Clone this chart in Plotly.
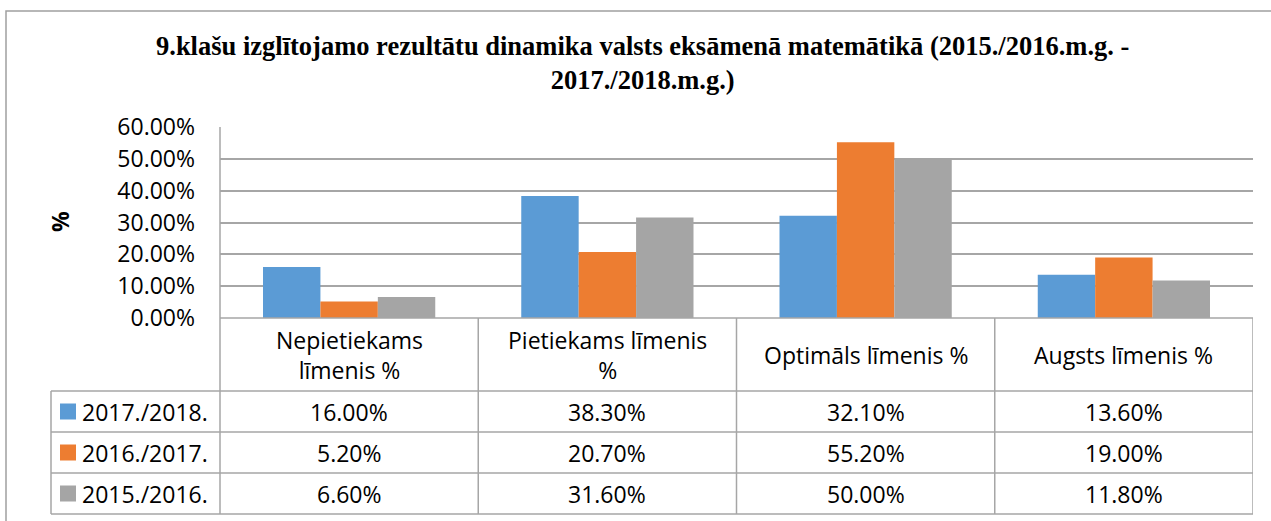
import plotly.graph_objects as go

categories = ["Nepietiekams<br>līmenis %", "Pietiekams līmenis<br>%", "Optimāls līmenis %", "Augsts līmenis %"]
series_names = ["2017./2018.", "2016./2017.", "2015./2016."]
values_2017_2018 = [0.160, 0.383, 0.321, 0.136]
values_2016_2017 = [0.052, 0.207, 0.552, 0.190]
values_2015_2016 = [0.066, 0.316, 0.500, 0.118]
series_values = [values_2017_2018, values_2016_2017, values_2015_2016]
colors = ["#5B9BD5", "#ED7D31", "#A5A5A5"]
y_ticks = [0, 0.1, 0.2, 0.3, 0.4, 0.5, 0.6]

W, H = 1271, 521
def px(x):
    return x / W
def py(y):
    return 1 - y / H

FONT = "Open Sans"
FS = 23
GRID = "#A6A6A6"
x_idx = list(range(len(categories)))

fig = go.Figure()
for name, vals, col in zip(series_names, series_values, colors):
    fig.add_trace(go.Bar(x=x_idx, y=vals, name=name, marker=dict(color=col, line=dict(width=0)), hoverinfo="skip"))

plot_l, plot_r, plot_t, plot_b = 220, 1253, 127, 318
row_lines = [391, 432, 473, 514]
legend_l = 51

shapes = []
shapes.append(dict(type="line", xref="paper", yref="paper", x0=px(plot_l), x1=px(plot_r), y0=py(plot_b), y1=py(plot_b), line=dict(color=GRID, width=1.5)))
for r in row_lines:
    shapes.append(dict(type="line", xref="paper", yref="paper", x0=px(legend_l), x1=px(plot_r), y0=py(r), y1=py(r), line=dict(color=GRID, width=1.5)))
shapes.append(dict(type="line", xref="paper", yref="paper", x0=px(legend_l), x1=px(legend_l), y0=py(row_lines[0]), y1=py(row_lines[-1]), line=dict(color=GRID, width=1.5)))
shapes.append(dict(type="line", xref="paper", yref="paper", x0=px(plot_l), x1=px(plot_l), y0=py(plot_t), y1=py(row_lines[-1]), line=dict(color=GRID, width=1.5)))
for i in range(1, len(categories) + 1):
    xb = i - 0.5
    shapes.append(dict(type="line", xref="x", yref="paper", x0=xb, x1=xb, y0=py(plot_b), y1=py(row_lines[-1]), line=dict(color=GRID, width=1.5)))
shapes.append(dict(type="rect", xref="paper", yref="paper", x0=px(6), x1=px(1280), y0=py(11), y1=py(530), line=dict(color="#A0A0A0", width=1.5), fillcolor="rgba(0,0,0,0)", layer="below"))

annotations = []
for i, c in enumerate(categories):
    annotations.append(dict(xref="x", yref="paper", x=i, y=py((plot_b + row_lines[0]) / 2), text=c, showarrow=False,
                            font=dict(family=FONT, size=FS, color="#000"), xanchor="center", yanchor="middle"))
for r, (name, vals, col) in enumerate(zip(series_names, series_values, colors)):
    yc = py((row_lines[r] + row_lines[r + 1]) / 2)
    for i, v in enumerate(vals):
        annotations.append(dict(xref="x", yref="paper", x=i, y=yc, text=f"{v*100:.2f}%", showarrow=False,
                                font=dict(family=FONT, size=FS, color="#000"), xanchor="center", yanchor="middle"))
    shapes.append(dict(type="rect", xref="paper", yref="paper", x0=px(60), x1=px(76), y0=yc - 8 / H, y1=yc + 8 / H,
                       fillcolor=col, line=dict(width=0)))
    annotations.append(dict(xref="paper", yref="paper", x=px(80), y=yc, text=name, showarrow=False,
                            font=dict(family=FONT, size=FS, color="#000"), xanchor="left", yanchor="middle"))
annotations.append(dict(xref="paper", yref="paper", x=px(60), y=py(222), text="<b>%</b>", textangle=-90, showarrow=False,
                        font=dict(family=FONT, size=FS, color="#000"), xanchor="center", yanchor="middle"))
annotations.append(dict(xref="paper", yref="paper", x=px(642), y=py(63),
                        text="<b>9.klašu izglītojamo rezultātu dinamika valsts eksāmenā matemātikā (2015./2016.m.g. -<br>2017./2018.m.g.)</b>",
                        showarrow=False, font=dict(family="Liberation Serif", size=26.5, color="#000"),
                        xanchor="center", yanchor="middle", align="center"))

fig.update_layout(
    width=W, height=H,
    margin=dict(l=0, r=0, t=0, b=0, autoexpand=False),
    paper_bgcolor="white", plot_bgcolor="white",
    showlegend=False,
    barmode="group", bargap=0.333, bargroupgap=0,
    xaxis=dict(domain=[px(plot_l), px(plot_r)], range=[-0.5, len(categories) - 0.5], showticklabels=False,
               showgrid=False, zeroline=False, showline=False, fixedrange=True, automargin=False),
    yaxis=dict(domain=[py(plot_b), py(plot_t)], range=[0, 0.6], tickvals=y_ticks, tickformat=".2%",
               showgrid=True, gridcolor=GRID, gridwidth=1.5, zeroline=False, showline=False, automargin=False,
               ticks="", ticklabelstandoff=24, tickfont=dict(family=FONT, size=FS, color="#000")),
    shapes=shapes, annotations=annotations,
)

fig.write_html("out.html", config={"displayModeBar": False},
               post_script="document.body.style.margin='0';document.body.style.overflow='hidden';")
